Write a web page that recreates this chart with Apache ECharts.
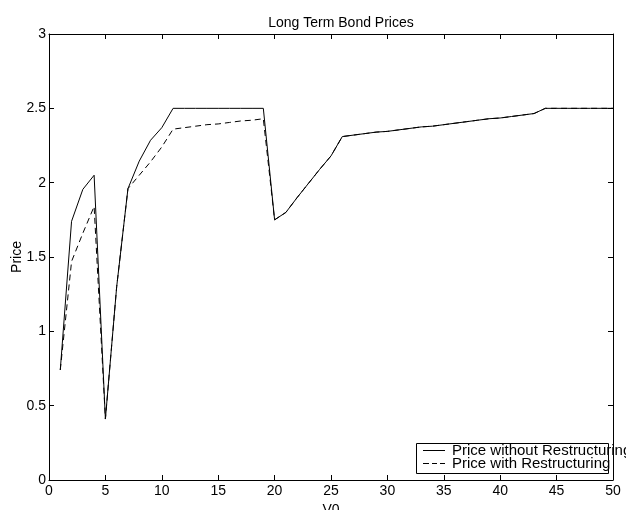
<!DOCTYPE html>
<html>
<head>
<meta charset="utf-8">
<script src="https://cdn.jsdelivr.net/npm/echarts@6/dist/echarts.min.js"></script>
<style>
html,body{margin:0;padding:0;background:#fff;}
#c{width:626px;height:510px;}
</style>
</head>
<body>
<div id="c"></div>
<script>
var titleText = "Long Term Bond Prices";
var xName = "V0";
var yName = "Price";
var seriesNames = ["Price without Restructuring", "Price with Restructuring"];
var v0 = [1,2,3,4,5,6,7,8,9,10,11,12,13,14,15,16,17,18,19,20,21,22,23,24,25,26,27,28,29,30,31,32,33,34,35,36,37,38,39,40,41,42,43,44,45,46,47,48,49,50];
var priceWithout = [0.74,1.74,1.955,2.05,0.41,1.30,1.96,2.145,2.285,2.37,2.5,2.5,2.5,2.5,2.5,2.5,2.5,2.5,2.5,1.75,1.80,1.90,1.995,2.09,2.18,2.31,2.32,2.33,2.34,2.345,2.355,2.365,2.375,2.38,2.39,2.40,2.41,2.42,2.43,2.435,2.445,2.455,2.465,2.5,2.5,2.5,2.5,2.5,2.5,2.5];
var priceWith = [0.74,1.47,1.66,1.84,0.41,1.30,1.96,2.05,2.14,2.24,2.36,2.37,2.38,2.39,2.395,2.405,2.415,2.42,2.43,1.75,1.80,1.90,1.995,2.09,2.18,2.31,2.32,2.33,2.34,2.345,2.355,2.365,2.375,2.38,2.39,2.40,2.41,2.42,2.43,2.435,2.445,2.455,2.465,2.5,2.5,2.5,2.5,2.5,2.5,2.5];
var xTicks = {min:0, max:50, interval:5};
var yTicks = {min:0, max:3, interval:0.5};

function pairs(xs, ys){ return xs.map(function(x,i){ return [x, ys[i]]; }); }

var font = "'Liberation Sans', Arial, Helvetica, sans-serif";
var solidIcon = 'path://M0,0h22v1h-22z';
var dashIcon = 'path://M0,0h6v1h-6zM9,0h5v1h-5zM17,0h5v1h-5z';
var chart = echarts.init(document.getElementById('c'), null, {renderer:'canvas'});
var axisCommon = {
  axisLine:{show:true, onZero:false, lineStyle:{color:'#000', width:1}},
  axisTick:{show:true, inside:true, length:5, lineStyle:{color:'#000'}},
  splitLine:{show:false}
};
chart.setOption({
  animation:false,
  backgroundColor:'#fff',
  title:{text:titleText, left:336, top:11, textAlign:'center',
    textStyle:{fontFamily:font, fontSize:14, fontWeight:'normal', color:'#000'}},
  grid:{left:49, right:13, top:34, bottom:30, containLabel:false, outerBoundsMode:'none'},
  legend:{
    orient:'vertical', left:423, top:443, padding:0, itemGap:-2,
    itemWidth:22, itemHeight:1, itemStyle:{color:'#000', borderWidth:0},
    textStyle:{fontFamily:font, fontSize:15, color:'#000', lineHeight:15, padding:[0,0,0,2]},
    data:[{name:seriesNames[0], icon:solidIcon}, {name:seriesNames[1], icon:dashIcon}]
  },
  graphic:[{type:'rect', shape:{x:416.5, y:443.5, width:192, height:30},
    style:{fill:'none', stroke:'#000', lineWidth:1}, z:-1}],
  xAxis:[
    Object.assign({type:'value', min:xTicks.min, max:xTicks.max, interval:xTicks.interval, position:'bottom',
      name:xName, nameLocation:'middle', nameGap:20,
      nameTextStyle:{fontFamily:font, fontSize:14, color:'#000'},
      axisLabel:{fontFamily:font, fontSize:14, color:'#000', margin:4}}, axisCommon),
    Object.assign({type:'value', min:xTicks.min, max:xTicks.max, interval:xTicks.interval, position:'top',
      axisLabel:{show:false}}, axisCommon)
  ],
  yAxis:[
    Object.assign({type:'value', min:yTicks.min, max:yTicks.max, interval:yTicks.interval, position:'left',
      name:yName, nameLocation:'middle', nameGap:25, nameMoveOverlap:false,
      nameTextStyle:{fontFamily:font, fontSize:14, color:'#000'},
      axisLabel:{fontFamily:font, fontSize:14, color:'#000', margin:3}}, axisCommon),
    Object.assign({type:'value', min:yTicks.min, max:yTicks.max, interval:yTicks.interval, position:'right',
      axisLabel:{show:false}}, axisCommon)
  ],
  series:[
    {name:seriesNames[0], type:'line', data:pairs(v0, priceWithout), symbol:'none', showSymbol:false,
      lineStyle:{color:'#000', width:1, type:'solid'}, itemStyle:{color:'#000'}, z:3},
    {name:seriesNames[1], type:'line', data:pairs(v0, priceWith), symbol:'none', showSymbol:false,
      lineStyle:{color:'#000', width:1, type:[6,4]}, itemStyle:{color:'#000'}, z:2}
  ]
});
</script>
</body>
</html>
